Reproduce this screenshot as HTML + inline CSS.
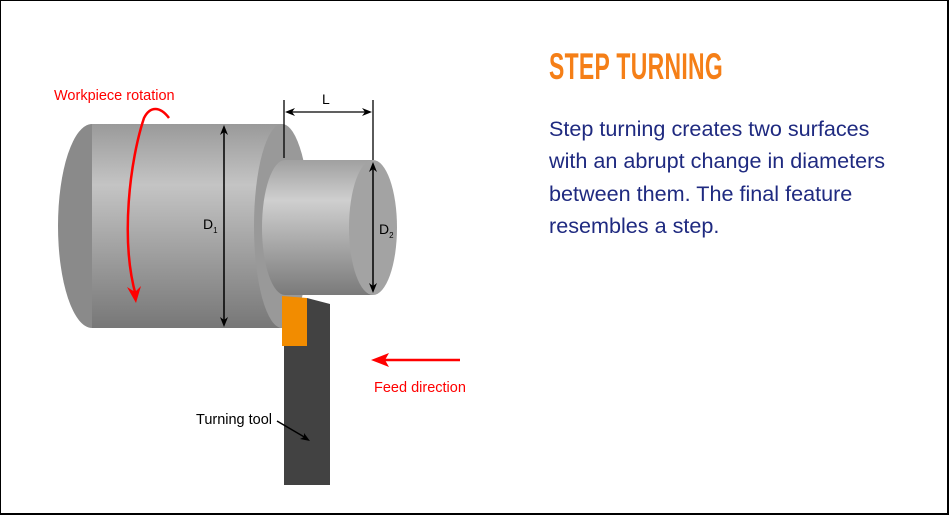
<!DOCTYPE html>
<html><head><meta charset="utf-8"><style>
html,body{margin:0;padding:0;background:#fff}
body{width:949px;height:515px;position:relative;overflow:hidden;font-family:"Liberation Sans",sans-serif}
.frame{position:absolute;left:0;top:0;width:946px;height:512px;border-top:1px solid #000;border-left:1px solid #000;border-right:2px solid #000;border-bottom:2px solid #000}
h1{position:absolute;left:549px;top:46px;margin:0;font-size:37px;font-weight:bold;color:#f57f17;transform:scaleX(0.62);transform-origin:left top;letter-spacing:0.5px;white-space:nowrap}
p{position:absolute;left:549px;top:113px;margin:0;font-size:21.6px;line-height:32.3px;color:#1f2a80;white-space:nowrap}
</style></head><body>
<div class="frame"></div>
<svg width="949" height="515" style="position:absolute;left:0;top:0">
<defs>
<linearGradient id="g1" x1="0" y1="0" x2="0" y2="1">
<stop offset="0" stop-color="#9a9a9a"/><stop offset="0.3" stop-color="#c4c4c4"/><stop offset="1" stop-color="#777"/>
</linearGradient>
<linearGradient id="g2" x1="0" y1="0" x2="0" y2="1">
<stop offset="0" stop-color="#a0a0a0"/><stop offset="0.3" stop-color="#cfcfcf"/><stop offset="1" stop-color="#7a7a7a"/>
</linearGradient>
</defs>
<ellipse cx="92" cy="226" rx="34" ry="102" fill="#8a8a8a"/>
<rect x="92" y="124" width="190" height="204" fill="url(#g1)"/>
<ellipse cx="282" cy="226" rx="28" ry="102" fill="#999"/>
<ellipse cx="285" cy="227.5" rx="23" ry="67.5" fill="url(#g2)"/>
<rect x="285" y="160" width="88" height="135" fill="url(#g2)"/>
<ellipse cx="373" cy="227.5" rx="24" ry="67.5" fill="#a3a3a3"/>
<polygon points="284,304 307,298 330,304 330,485 284,485" fill="#424242"/>
<polygon points="282,296 307,298 307,346 282,346" fill="#f28c00"/>
<line x1="224" y1="128" x2="224" y2="324" stroke="#000" stroke-width="1.5"/>
<path d="M224,125 l-4,10 l4,-3 l4,3z M224,327 l-4,-10 l4,3 l4,-3z" fill="#000"/>
<line x1="373" y1="165" x2="373" y2="290" stroke="#000" stroke-width="1.5"/>
<path d="M373,162 l-4,10 l4,-3 l4,3z M373,293 l-4,-10 l4,3 l4,-3z" fill="#000"/>
<line x1="284" y1="100" x2="284" y2="158" stroke="#000" stroke-width="1.3"/>
<line x1="373" y1="100" x2="373" y2="160" stroke="#000" stroke-width="1.3"/>
<line x1="288" y1="112" x2="369" y2="112" stroke="#000" stroke-width="1.3"/>
<path d="M285,112 l10,-4 l-3,4 l3,4z M372,112 l-10,-4 l3,4 l-3,4z" fill="#000"/>
<text x="322" y="104" font-size="14" fill="#000">L</text>
<text x="203" y="229" font-size="14" fill="#000">D<tspan font-size="8" dy="4">1</tspan></text>
<text x="379" y="234" font-size="14" fill="#000">D<tspan font-size="8" dy="4">2</tspan></text>
<path d="M169,118 C160,106 150,106 144,118 C130,160 120,240 136,296" fill="none" stroke="#f00" stroke-width="2.5"/>
<path d="M136,303 l-9,-16 l8,5 l6,-6z" fill="#f00"/>
<text x="54" y="100" font-size="14.5" fill="#f00">Workpiece rotation</text>
<line x1="460" y1="360" x2="385" y2="360" stroke="#f00" stroke-width="2.5"/>
<path d="M371,360 l18,-7 l-4,7 l4,7z" fill="#f00"/>
<text x="374" y="392" font-size="14.5" fill="#f00">Feed direction</text>
<text x="196" y="424" font-size="14.5" fill="#000">Turning tool</text>
<line x1="277" y1="421" x2="306" y2="438" stroke="#000" stroke-width="1.5"/>
<path d="M310,441 l-10,-2 l4,-2 l0,-4z" fill="#000"/>
</svg>
<h1>STEP TURNING</h1>
<p>Step turning creates two surfaces<br>with an abrupt change in diameters<br>between them. The final feature<br>resembles a step.</p>
</body></html>
